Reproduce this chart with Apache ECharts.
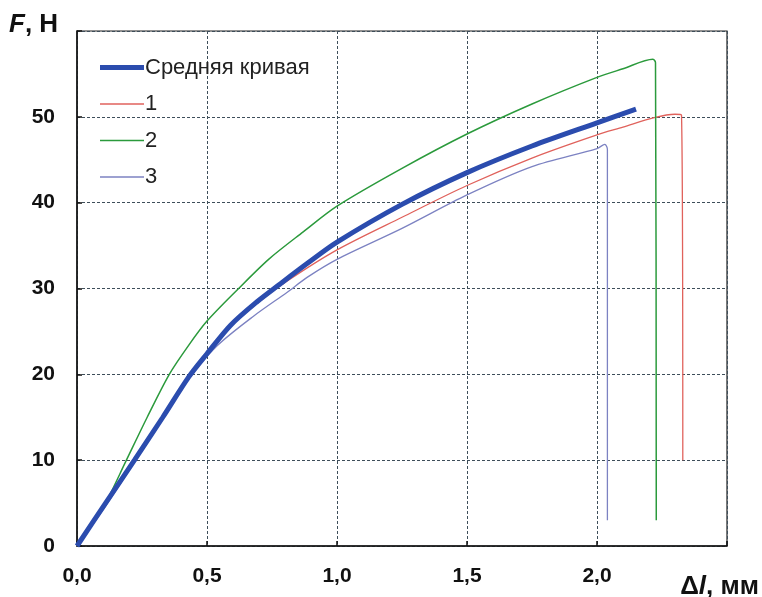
<!DOCTYPE html>
<html>
<head>
<meta charset="utf-8">
<script src="https://cdn.jsdelivr.net/npm/echarts@6/dist/echarts.min.js"></script>
<style>
  html, body { margin: 0; padding: 0; background: #fff; }
  #chart { width: 762px; height: 597px; }
</style>
</head>
<body>
<div id="chart"></div>
<script>
// данные: [Δl, мм ; F, Н]
var seriesNames = ['Средняя кривая', '1', '2', '3'];
var meanCurve = [[0,0],[0.11,5],[0.221,10],[0.33,15],[0.43,19.7],[0.5,22.4],[0.59,25.7],[0.69,28.4],[0.78,30.5],[0.885,32.9],[1.0,35.4],[1.25,39.8],[1.5,43.5],[1.75,46.6],[2.0,49.3],[2.15,50.9]];
var curve1 = [[0,0],[0.11,4.8],[0.221,9.8],[0.33,14.8],[0.43,19.6],[0.5,22.3],[0.59,25.6],[0.69,28.2],[0.8,30.7],[1.0,34.5],[1.25,38.3],[1.5,42.0],[1.75,45.2],[2.0,47.9],[2.1,48.8],[2.22,49.9],[2.3,50.3],[2.325,50.2],[2.33,10]];
var curve2 = [[0,0],[0.06,2.6],[0.11,5],[0.19,10],[0.27,15],[0.355,20],[0.43,23.4],[0.5,26.2],[0.615,29.8],[0.737,33.4],[0.87,36.6],[1.0,39.6],[1.25,44.0],[1.5,48.0],[1.75,51.5],[2.0,54.6],[2.1,55.6],[2.215,56.7],[2.225,56.3],[2.228,3.0]];
var curve3 = [[0,0],[0.1,4.2],[0.221,9.8],[0.33,14.8],[0.43,19.5],[0.538,23.3],[0.68,26.8],[0.81,29.6],[0.885,31.3],[1.0,33.4],[1.25,37.0],[1.5,40.9],[1.75,44.2],[2.0,46.3],[2.03,46.8],[2.04,46.2],[2.04,3.0]];
var xTicks = [0, 0.5, 1.0, 1.5, 2.0];
var yTicks = [0, 10, 20, 30, 40, 50];

var colors = ['#2b4cae', '#e0625c', '#2b9a3c', '#7c82c2'];
var widths = [5, 1.3, 1.5, 1.3];
var curves = [meanCurve, curve1, curve2, curve3];
var FONT = 'Liberation Sans, Arial, sans-serif';

var chart = echarts.init(document.getElementById('chart'));

var series = [];
// средняя кривая рисуется поверх
[1, 2, 3, 0].forEach(function (i) {
    series.push({
        name: seriesNames[i],
        type: 'line',
        data: curves[i],
        symbol: 'none',
        smooth: 0.3,
        z: i === 0 ? 5 : 3,
        color: colors[i],
        lineStyle: { color: colors[i], width: widths[i] }
    });
});

var legendData = seriesNames.map(function (n, i) {
    return { name: n, icon: 'path://M0,0h44v' + widths[i] + 'h-44z', itemStyle: { color: colors[i] } };
});

var gridLine = { show: true, lineStyle: { color: '#3e4e5a', type: [3, 2], width: 1 } };
var axisFont = { fontFamily: FONT, fontSize: 21, fontWeight: 'bold', color: '#111' };
var nameRich = { i: { fontStyle: 'italic', fontWeight: 'bold', fontSize: 26, fontFamily: FONT } };

chart.setOption({
    animation: false,
    grid: { left: 77, right: 35, top: 31, bottom: 51, show: true, borderColor: '#222', borderWidth: 1.2, containLabel: false },
    legend: {
        data: legendData,
        orient: 'vertical',
        left: 95,
        top: 51,
        itemWidth: 44,
        itemHeight: 14,
        itemGap: 13.5,
        symbolKeepAspect: true,
        textStyle: { fontFamily: FONT, fontSize: 22, lineHeight: 23, color: '#222', padding: [0, 0, 0, -4] }
    },
    xAxis: {
        type: 'value',
        min: 0,
        max: 2.5,
        interval: 0.5,
        axisLine: { lineStyle: { color: '#111', width: 1.5 } },
        axisTick: { inside: true, length: 5, lineStyle: { color: '#111', width: 1.5 } },
        splitLine: gridLine,
        axisLabel: Object.assign({
            margin: 20,
            formatter: function (v) {
                return xTicks.indexOf(v) >= 0 ? v.toFixed(1).replace('.', ',') : '';
            }
        }, axisFont)
    },
    yAxis: {
        type: 'value',
        min: 0,
        max: 60,
        interval: 10,
        axisLine: { lineStyle: { color: '#111', width: 1.5 } },
        axisTick: { inside: true, length: 5, lineStyle: { color: '#111', width: 1.5 } },
        splitLine: gridLine,
        axisLabel: Object.assign({
            margin: 22,
            formatter: function (v) {
                return yTicks.indexOf(v) >= 0 ? String(v) : '';
            }
        }, axisFont)
    },
    graphic: [
        {
            type: 'text', left: 9, top: 12,
            style: { text: '{i|F}, Н', rich: nameRich, fontSize: 26, fontWeight: 'bold', fontFamily: FONT, fill: '#111' }
        },
        {
            type: 'text', right: 3, top: 574,
            style: { text: 'Δ{i|l}, мм', rich: nameRich, fontSize: 26, fontWeight: 'bold', fontFamily: FONT, fill: '#111' }
        }
    ],
    series: series
});
</script>
</body>
</html>
